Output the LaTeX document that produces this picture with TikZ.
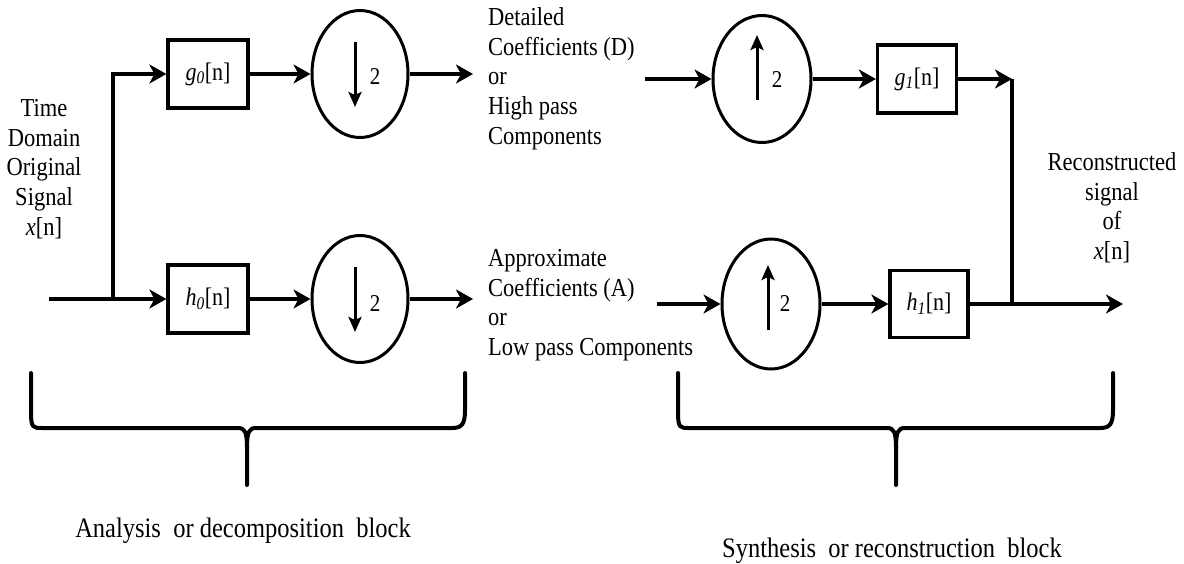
\documentclass[tikz,border=0pt]{standalone}
\usepackage{fontspec}
\usepackage{graphicx}
\setmainfont{Liberation Serif}
\usetikzlibrary{arrows.meta,shapes.geometric,calc}
\newcommand{\vst}[1]{\scalebox{1}[1.15]{#1}}
\newcommand{\vstack}[2]{\scalebox{1}[1.15]{\begin{tabular}{@{}#1@{}}#2\end{tabular}}}
\begin{document}
\begin{tikzpicture}[x=1pt,y=-1pt,
  conn/.style={line width=3.5pt,-{Stealth[length=17pt,width=19pt,inset=5pt]}},
  plain/.style={line width=3.5pt},
  filt/.style={draw,line width=3.2pt,minimum width=80pt,minimum height=68pt,inner sep=0pt,font=\fontsize{22}{26}\selectfont},
  samp/.style={draw,ellipse,line width=3pt,minimum width=96pt,minimum height=127pt,inner sep=0pt},
  inarr/.style={line width=3pt,-{Stealth[length=15pt,width=13pt,inset=3pt]}},
  two/.style={font=\fontsize{21}{24}\selectfont,inner sep=0pt},
  lbl/.style={font=\fontsize{22.5}{26}\selectfont,inner sep=0pt},
  blocklbl/.style={font=\fontsize{24.5}{30}\selectfont,inner sep=0pt},
  bracepath/.style={line width=4pt,line join=round,line cap=round}
]
\useasboundingbox (0,0) rectangle (1184,563);

% filters
\node[filt] (g0) at (208,74) {\vst{\textit{g}\textsubscript{\textit{0}}[n]}};
\node[filt] (h0) at (208,299) {\vst{\textit{h}\textsubscript{\textit{0}}[n]}};
\node[filt,minimum width=79pt] (g1) at (917,79) {\vst{\textit{g}\textsubscript{\textit{1}}[n]}};
\node[filt,minimum width=78pt,minimum height=67pt] (h1) at (929,304) {\vst{\textit{h}\textsubscript{\textit{1}}[n]}};

% samplers
\node[samp] (d1) at (360,74) {};
\node[samp] (d2) at (360,299) {};
\node[samp,minimum width=98pt] (u1) at (762,79) {};
\node[samp,minimum width=98pt,minimum height=130pt] (u2) at (771,304) {};

\draw[inarr] ([xshift=-5pt,yshift=32pt]d1.center) -- ([xshift=-5pt,yshift=-33pt]d1.center);
\node[two] (d1two) at ([xshift=15pt,yshift=-3pt]d1.center) {\vst{2}};
\draw[inarr] ([xshift=-5pt,yshift=32pt]d2.center) -- ([xshift=-5pt,yshift=-33pt]d2.center);
\node[two] (d2two) at ([xshift=15pt,yshift=-4pt]d2.center) {\vst{2}};
\draw[inarr] ([xshift=-5pt,yshift=-21pt]u1.center) -- ([xshift=-5pt,yshift=44pt]u1.center);
\node[two] (u1two) at ([xshift=15pt,yshift=-1pt]u1.center) {\vst{2}};
\draw[inarr] ([xshift=-3pt,yshift=-26pt]u2.center) -- ([xshift=-3pt,yshift=39pt]u2.center);
\node[two] (u2two) at ([xshift=14pt,yshift=1pt]u2.center) {\vst{2}};

% labels
\node[lbl] (src) at (44,170) {\vstack{c}{Time\\Domain\\Original\\Signal\\\textit{x}[n]}};
\node[lbl,anchor=west] (dtxt) at (488,79) {\vstack{l}{Detailed\\Coefficients (D)\\or\\High pass\\Components}};
\node[lbl,anchor=west] (atxt) at (488,305) {\vstack{l}{Approximate\\Coefficients (A)\\or\\Low pass Components}};
\node[lbl] (rtxt) at (1112,209) {\vstack{c}{Reconstructed\\signal\\of\\\textit{x}[n]}};
\node[blocklbl,anchor=base] (an) at (243,537) {\vst{Analysis~ or decomposition~ block}};
\node[blocklbl,anchor=base] (sy) at (892,557) {\vst{Synthesis~ or reconstruction~ block}};

% connectors
\coordinate (xin) at (49,299);
\coordinate (jn) at (113,299);
\draw[plain] (xin) -- (jn);
\draw[conn] (jn) -- (h0);
\draw[conn] (jn) |- (g0.west);
\draw[conn] (g0) -- (d1);
\draw[conn] (h0) -- (d2);
\coordinate (dend) at (473,74);
\coordinate (aend) at (473,299);
\draw[conn] (d1) -- (dend);
\draw[conn] (d2) -- (aend);
\coordinate (dstart) at (645,79);
\coordinate (astart) at (657,304);
\draw[conn] (dstart) -- (u1);
\draw[conn] (astart) -- (u2);
\draw[conn] (u1) -- (g1);
\draw[conn] (u2) -- (h1);
\coordinate (jr) at (1012,304);
\coordinate (jtop) at (1012,79);
\coordinate (xout) at (1123,304);
\draw[conn] (g1) -- (jtop);
\draw[plain] (jtop) -- (jr);
\draw[conn] (h1) -- (xout);

% braces
\draw[bracepath] (31,373) -- (31,412) .. controls (31,428) and (33,428) .. (42,428) -- (238,428)
  .. controls (245,428) and (247,432) .. (247,448) -- (247,485);
\draw[bracepath] (247,448) .. controls (247,432) and (249,428) .. (256,428) -- (452,428)
  .. controls (462,428) and (465,424) .. (465,410) -- (465,373);
\draw[bracepath] (678,373) -- (678,412) .. controls (678,428) and (680,428) .. (689,428) -- (887,428)
  .. controls (894,428) and (896,432) .. (896,448) -- (896,485);
\draw[bracepath] (896,448) .. controls (896,432) and (898,428) .. (905,428) -- (1100,428)
  .. controls (1110,428) and (1113,424) .. (1113,410) -- (1113,373);
\end{tikzpicture}
\end{document}
